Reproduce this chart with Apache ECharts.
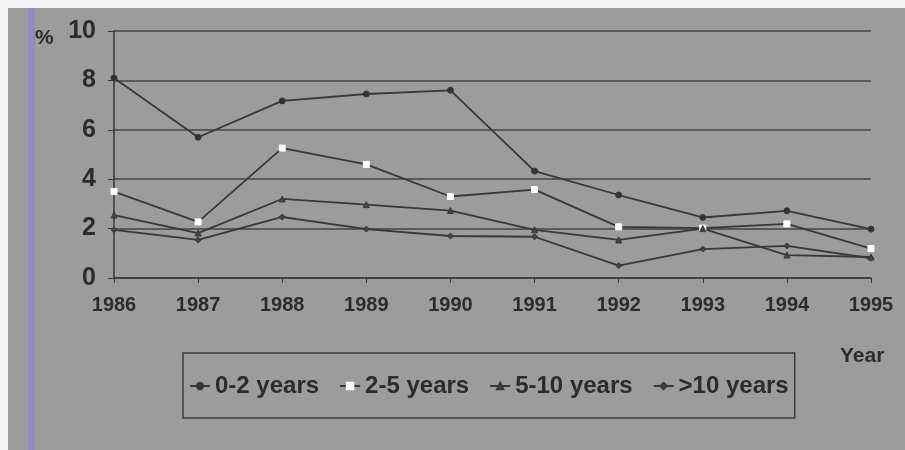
<!DOCTYPE html>
<html>
<head>
<meta charset="utf-8">
<script src="https://cdn.jsdelivr.net/npm/echarts@6/dist/echarts.min.js"></script>
<style>
  html, body { margin: 0; padding: 0; background: #9c9c9c; }
  #chart { width: 905px; height: 450px; }
</style>
</head>
<body>
<div id="chart"></div>
<script>
var years = ['1986', '1987', '1988', '1989', '1990', '1991', '1992', '1993', '1994', '1995']
var yTicks = [0, 2, 4, 6, 8, 10]

var s0to2 = [8.1, 5.7, 7.17, 7.45, 7.6, 4.33, 3.36, 2.45, 2.72, 1.98]
var s2to5 = [3.5, 2.27, 5.26, 4.6, 3.3, 3.58, 2.07, 2.02, 2.19, 1.19]
var s5to10 = [2.55, 1.82, 3.2, 2.97, 2.73, 1.95, 1.54, 2.0, 0.93, 0.85]
var sOver10 = [1.95, 1.54, 2.47, 1.98, 1.7, 1.67, 0.5, 1.17, 1.3, 0.8]

var lineColor = '#383838'
var textColor = '#2c2c2c'
var font = 'Liberation Sans'

function makeSeries(name, data, symbol, fill) {
  return {
    name: name,
    type: 'line',
    data: data,
    symbol: symbol,
    symbolSize: 6,
    animation: false,
    itemStyle: {
      color: fill,
      borderColor: fill === '#ffffff' ? '#ffffff' : lineColor,
      borderWidth: 1
    },
    lineStyle: { color: lineColor, width: 1.8 }
  }
}

var chart = echarts.init(document.getElementById('chart'))
chart.setOption({
  backgroundColor: '#9c9c9c',
  textStyle: { fontFamily: font },
  graphic: [
    { type: 'rect', shape: { x: 0, y: 0, width: 905, height: 8 }, style: { fill: '#f4f4f4' }, silent: true },
    { type: 'rect', shape: { x: 0, y: 0, width: 8, height: 450 }, style: { fill: '#f4f4f4' }, silent: true },
    { type: 'rect', shape: { x: 28, y: 8, width: 7, height: 442 }, style: { fill: '#8f8cc2' }, silent: true },
    {
      type: 'text', left: 35, top: 28,
      style: { text: '%', font: 'bold 21px "Liberation Sans"', fill: textColor }
    },
    {
      type: 'text', left: 840, top: 346,
      style: { text: 'Year', font: 'bold 21px "Liberation Sans"', fill: textColor }
    }
  ],
  grid: {
    left: 114,
    right: 34,
    top: 31,
    bottom: 172,
    containLabel: false
  },
  legend: {
    left: 183,
    top: 353,
    width: 612,
    padding: [21, 6, 20, 6],
    itemGap: 20,
    itemWidth: 20,
    itemHeight: 8,
    borderColor: '#3c3c3c',
    borderWidth: 1.5,
    textStyle: { color: textColor, fontSize: 24, fontWeight: 'bold', fontFamily: font },
    data: ['0-2 years', '2-5 years', '5-10 years', '>10 years']
  },
  xAxis: {
    type: 'category',
    data: years,
    boundaryGap: false,
    axisLine: { lineStyle: { color: lineColor, width: 1.5 } },
    axisTick: { show: true, length: 5, lineStyle: { color: lineColor } },
    axisLabel: { color: textColor, fontSize: 20, fontWeight: 'bold', fontFamily: font, margin: 17 }
  },
  yAxis: {
    type: 'value',
    min: yTicks[0],
    max: yTicks[yTicks.length - 1],
    interval: 2,
    axisLine: { show: true, lineStyle: { color: lineColor, width: 1.5 } },
    axisTick: { show: true, length: 6, lineStyle: { color: lineColor } },
    axisLabel: { color: textColor, fontSize: 25, fontWeight: 'bold', fontFamily: font, margin: 18 },
    splitLine: { show: true, lineStyle: { color: '#454545', width: 1.6 } }
  },
  series: [
    makeSeries('0-2 years', s0to2, 'circle', '#333333'),
    makeSeries('2-5 years', s2to5, 'rect', '#ffffff'),
    makeSeries('5-10 years', s5to10, 'triangle', '#444444'),
    makeSeries('>10 years', sOver10, 'diamond', '#444444')
  ]
})
</script>
</body>
</html>
